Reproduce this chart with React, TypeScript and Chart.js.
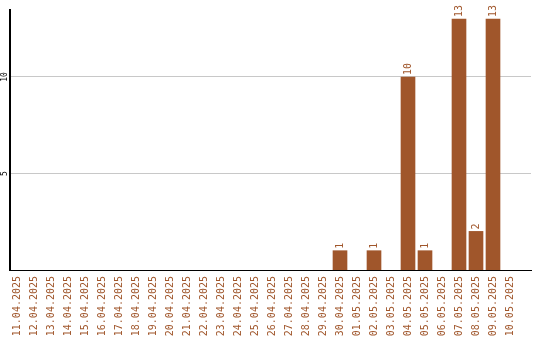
import React, { useEffect, useRef } from "react";
import { Chart, registerables } from "chart.js";

Chart.register(...registerables);

// Daily counts, 11.04.2025 – 10.05.2025
const dates: string[] = [
  "11.04.2025", "12.04.2025", "13.04.2025", "14.04.2025", "15.04.2025",
  "16.04.2025", "17.04.2025", "18.04.2025", "19.04.2025", "20.04.2025",
  "21.04.2025", "22.04.2025", "23.04.2025", "24.04.2025", "25.04.2025",
  "26.04.2025", "27.04.2025", "28.04.2025", "29.04.2025", "30.04.2025",
  "01.05.2025", "02.05.2025", "03.05.2025", "04.05.2025", "05.05.2025",
  "06.05.2025", "07.05.2025", "08.05.2025", "09.05.2025", "10.05.2025",
];
const counts: number[] = [
  0, 0, 0, 0, 0, 0, 0, 0, 0, 0,
  0, 0, 0, 0, 0, 0, 0, 0, 0, 1,
  0, 1, 0, 10, 1, 0, 13, 2, 13, 0,
];
const yTicks: number[] = [5, 10];

const BROWN = "#A0562B";
const MONO = "'DejaVu Sans Mono', monospace";

// Days with no events get no bar at all
const points = counts
  .map((v, i) => ({ x: i, y: v }))
  .filter((p) => p.y > 0);

// Rotated value labels above each bar
const valueLabels = {
  id: "valueLabels",
  afterDatasetsDraw(chart: any) {
    const { ctx } = chart;
    const meta = chart.getDatasetMeta(0);
    ctx.save();
    ctx.fillStyle = BROWN;
    ctx.font = `10px ${MONO}`;
    ctx.textAlign = "left";
    ctx.textBaseline = "middle";
    meta.data.forEach((bar: any, i: number) => {
      const v = points[i].y;
      ctx.save();
      ctx.translate(bar.x, bar.y - 2);
      ctx.rotate(-Math.PI / 2);
      ctx.fillText(String(v), 0, 0);
      ctx.restore();
    });
    ctx.restore();
  },
};

// Rotated axis labels: y ticks left of the axis, dates under the x axis
const axisLabels = {
  id: "axisLabels",
  afterDraw(chart: any) {
    const { ctx } = chart;
    const x = chart.scales.x;
    const y = chart.scales.y;
    ctx.save();
    ctx.textBaseline = "middle";

    ctx.fillStyle = "#000";
    ctx.font = `8px ${MONO}`;
    ctx.textAlign = "center";
    yTicks.forEach((t) => {
      ctx.save();
      ctx.translate(5, y.getPixelForValue(t));
      ctx.rotate(-Math.PI / 2);
      ctx.fillText(String(t), 0, 0);
      ctx.restore();
    });

    ctx.fillStyle = BROWN;
    ctx.font = `10px ${MONO}`;
    ctx.textAlign = "right";
    dates.forEach((d, i) => {
      ctx.save();
      ctx.translate(x.getPixelForValue(i) + 0.5, y.bottom + 6);
      ctx.rotate(-Math.PI / 2);
      ctx.fillText(d, 0, 0);
      ctx.restore();
    });
    ctx.restore();
  },
};

export default function App() {
  const ref = useRef<HTMLCanvasElement | null>(null);

  useEffect(() => {
    if (!ref.current) return;
    const chart = new Chart(ref.current, {
      type: "bar",
      data: {
        datasets: [
          {
            data: points,
            backgroundColor: BROWN,
            borderWidth: 0,
            barThickness: 14,
          },
        ],
      },
      options: {
        animation: false,
        responsive: true,
        maintainAspectRatio: false,
        devicePixelRatio: 1,
        layout: { padding: { top: 10, right: 9, left: 0, bottom: 0 } },
        plugins: { legend: { display: false }, tooltip: { enabled: false } },
        scales: {
          x: {
            type: "linear",
            offset: false,
            bounds: "data",
            min: -7 / 17,
            max: 514 / 17,
            grid: { display: false, offset: false },
            border: { display: true, color: "#000", width: 1 },
            afterBuildTicks: (axis: any) => {
              axis.ticks = dates.map((_, i) => ({ value: i }));
            },
            afterFit: (axis: any) => {
              axis.height = 70;
            },
            ticks: { display: false },
          },
          y: {
            min: 0,
            max: 13.47,
            grid: { color: "#c8c8c8", lineWidth: 1, drawTicks: false },
            border: { display: true, color: "#000", width: 2 },
            afterBuildTicks: (axis: any) => {
              axis.ticks = yTicks.map((v) => ({ value: v }));
            },
            afterFit: (axis: any) => {
              axis.width = 10;
            },
            ticks: { display: false },
          },
        },
      },
      plugins: [valueLabels, axisLabels],
    });
    return () => chart.destroy();
  }, []);

  return (
    <div style={{ position: "absolute", left: 0, top: 0, width: 540, height: 340, background: "#fff" }}>
      <canvas ref={ref} />
    </div>
  );
}
